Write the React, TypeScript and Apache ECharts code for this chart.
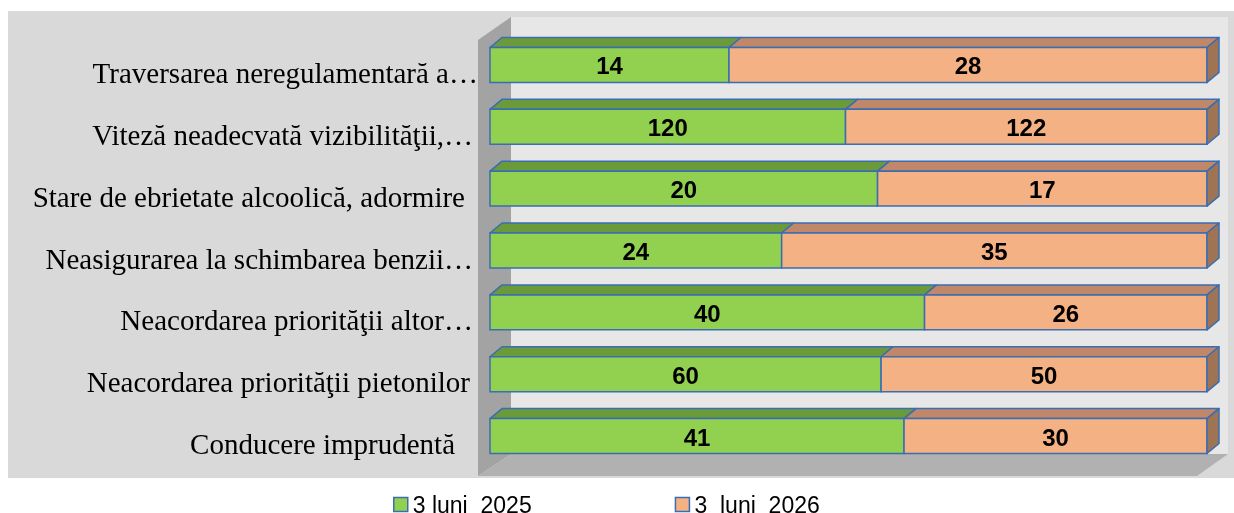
import React, { useEffect, useRef } from "react";
import * as echarts from "echarts";

const categories = [
  "Traversarea neregulamentară a…",
  "Viteză neadecvată vizibilităţii,…",
  "Stare de ebrietate alcoolică, adormire",
  "Neasigurarea la schimbarea benzii…",
  "Neacordarea priorităţii altor…",
  "Neacordarea priorităţii pietonilor",
  "Conducere imprudentă",
];
const values2025 = [14, 120, 20, 24, 40, 60, 41];
const values2026 = [28, 122, 17, 35, 26, 50, 30];
const seriesNames = ["3 luni  2025", "3  luni  2026"];

// label right paddings (style only)
const labelPads = [0, 5, 13, 5, 5, 8, 23];

const BORDER = "#3a6db2";
const faces = [
  { front: "#92d050", top: "#6b9a3b", side: "#5f8a33" },
  { front: "#f4b183", top: "#c08768", side: "#9f7455" },
];
const DX = 12;
const DY = 10;

export default function App() {
  const ref = useRef<HTMLDivElement>(null);
  useEffect(() => {
    if (!ref.current) return;
    const chart = echarts.init(ref.current, null, { renderer: "svg" });
    const totals = values2025.map((v, i) => v + values2026[i]);
    const data25 = categories.map((_, i) => [i, 0, (values2025[i] / totals[i]) * 100, values2025[i]]);
    const data26 = categories.map((_, i) => [i, (values2025[i] / totals[i]) * 100, 100, values2026[i]]);

    const makeRender = (si: number) => (params: any, api: any) => {
      const i = api.value(0);
      const s = api.value(1);
      const e = api.value(2);
      const p0 = api.coord([s, i]);
      const p1 = api.coord([e, i]);
      const h = api.size([0, 1])[1] * 0.565;
      const x0 = p0[0];
      const x1 = p1[0];
      const top = p0[1] - h / 2;
      const bot = p0[1] + h / 2;
      const f = faces[si];
      const children: any[] = [
        {
          type: "polygon",
          shape: { points: [[x0, top], [x0 + DX, top - DY], [x1 + DX, top - DY], [x1, top]] },
          style: { fill: f.top, stroke: BORDER, lineWidth: 1.5, lineJoin: "round" },
        },
        {
          type: "rect",
          shape: { x: x0, y: top, width: x1 - x0, height: h },
          style: { fill: f.front, stroke: BORDER, lineWidth: 1.5 },
        },
      ];
      if (si === 1) {
        children.push({
          type: "polygon",
          shape: { points: [[x1, top], [x1 + DX, top - DY], [x1 + DX, bot - DY], [x1, bot]] },
          style: { fill: f.side, stroke: BORDER, lineWidth: 1.5, lineJoin: "round" },
        });
      }
      children.push({
        type: "text",
        style: {
          text: String(api.value(3)),
          x: (x0 + x1) / 2,
          y: p0[1] + 1,
          align: "center",
          verticalAlign: "middle",
          fill: "#000",
          font: "bold 24px 'Liberation Sans', Arial, sans-serif",
        },
      });
      return { type: "group", children };
    };

    const rich: any = {};
    labelPads.forEach((p, i) => {
      rich["r" + i] = {
        fontFamily: "'Liberation Serif', serif",
        fontSize: 29,
        color: "#000",
        padding: [16, p, 0, 0],
      };
    });

    chart.setOption({
      animation: false,
      graphic: [
        { type: "rect", z: -10, shape: { x: 8, y: 11, width: 1226, height: 467 }, style: { fill: "#d9d9d9" } },
        { type: "rect", z: -9, shape: { x: 511, y: 17, width: 717, height: 437 }, style: { fill: "#e7e7e7" } },
        {
          type: "polygon",
          z: -9,
          shape: { points: [[478, 40], [511, 17], [511, 454], [478, 476]] },
          style: { fill: "#a3a3a3" },
        },
        {
          type: "polygon",
          z: -9,
          shape: { points: [[478, 476], [511, 454], [1228, 454], [1197, 476]] },
          style: { fill: "#b1b1b1" },
        },
      ],
      grid: { left: 490, top: 34, width: 717, height: 433, containLabel: false },
      xAxis: { type: "value", min: 0, max: 100, show: false },
      yAxis: {
        type: "category",
        inverse: true,
        data: categories,
        axisLine: { show: false },
        axisTick: { show: false },
        splitLine: { show: false },
        axisLabel: {
          margin: 12,
          formatter: (v: string, idx: number) => `{r${idx}|${v}}`,
          rich,
        },
      },
      legend: {
        left: 388,
        top: 488,
        itemGap: 143,
        itemWidth: 14,
        itemHeight: 14,
        icon: "rect",
        itemStyle: { borderColor: BORDER, borderWidth: 1.5 },
        textStyle: { fontFamily: "'Liberation Sans', Arial, sans-serif", fontSize: 23, color: "#000" },
        data: seriesNames,
      },
      series: [
        {
          type: "custom",
          name: seriesNames[0],
          renderItem: makeRender(0),
          encode: { x: [1, 2], y: 0 },
          itemStyle: { color: faces[0].front, borderColor: BORDER },
          data: data25,
        },
        {
          type: "custom",
          name: seriesNames[1],
          renderItem: makeRender(1),
          encode: { x: [1, 2], y: 0 },
          itemStyle: { color: faces[1].front, borderColor: BORDER },
          data: data26,
        },
      ],
    });
    return () => chart.dispose();
  }, []);
  return <div ref={ref} style={{ position: "fixed", left: 0, top: 0, width: 1234, height: 513 }} />;
}
